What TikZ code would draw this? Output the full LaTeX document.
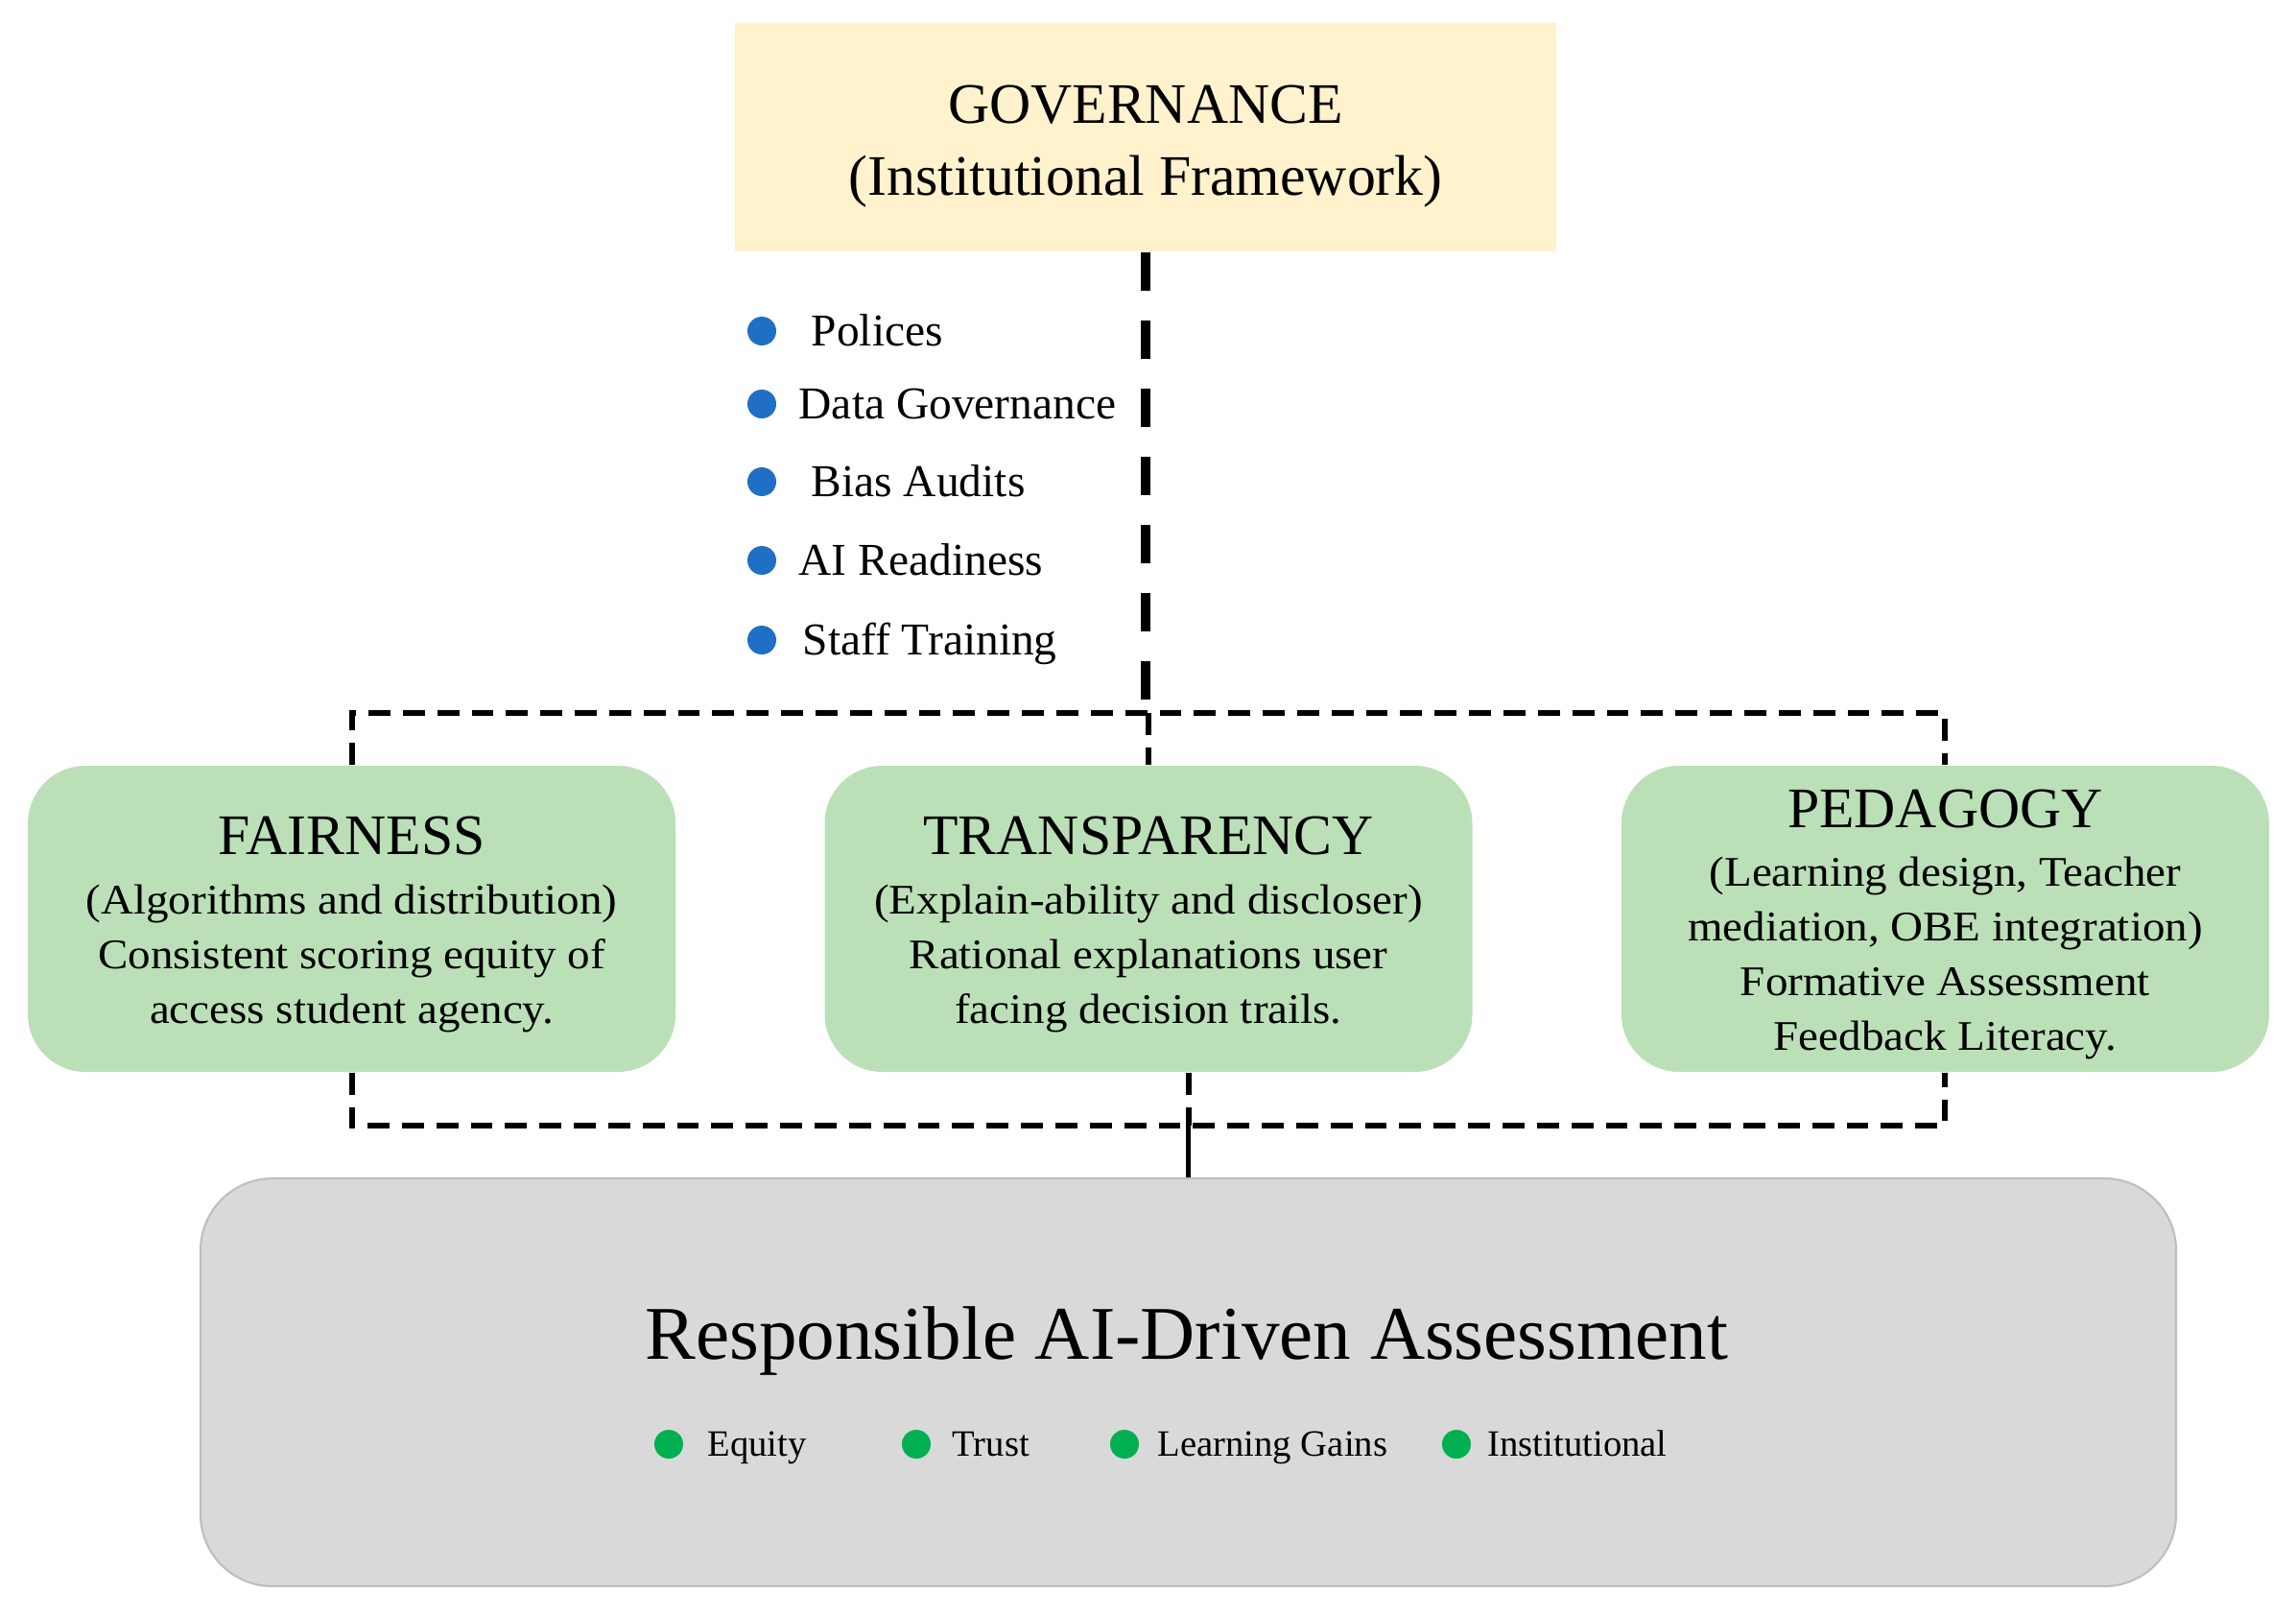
\documentclass[tikz,border=0pt]{standalone}
\usepackage{fontspec}
\setmainfont{Liberation Serif}
\usepackage{tikz}
\usetikzlibrary{positioning,calc}
\definecolor{govfill}{RGB}{255,242,204}
\definecolor{pillarfill}{RGB}{187,224,183}
\definecolor{basefill}{RGB}{217,217,217}
\definecolor{baseedge}{RGB}{190,190,190}
\definecolor{dotblue}{RGB}{31,111,197}
\definecolor{dotgreen}{RGB}{0,176,80}
\newcommand{\ptitle}[1]{{\normalfont\fontsize{17}{21}\selectfont\rule{0pt}{14.7pt}#1}}

\begin{document}
\begin{tikzpicture}[
  govbox/.style={fill=govfill, minimum width=8.56cm, minimum height=2.38cm, align=center, font=\fontsize{17}{21.3}\selectfont},
  pillar/.style={fill=pillarfill, rounded corners=0.6cm, minimum width=6.75cm, minimum height=3.19cm, align=center, font=\fontsize{12.5}{16.2}\selectfont\addfontfeatures{FakeStretch=1.07}},
  basebox/.style={fill=basefill, draw=baseedge, line width=0.6pt, rounded corners=0.75cm, minimum width=20.59cm, minimum height=4.25cm},
  trunk/.style={line width=2.7pt, dash pattern=on 11.4pt off 8.8pt},
  bus/.style={line width=1.7pt, dash pattern=on 6.5pt off 3.7pt},
  bdot/.style={circle, inner sep=0pt, minimum size=0.3cm, fill=dotblue},
  gdot/.style={circle, inner sep=0pt, minimum size=0.3cm, fill=dotgreen},
  item/.style={anchor=west, inner sep=0pt, text height=8.9pt, text depth=0pt, font=\fontsize{13.5}{16}\selectfont},
  gain/.style={anchor=west, inner sep=0pt, text height=7.3pt, text depth=0pt, font=\fontsize{11}{13}\selectfont}
]
\useasboundingbox (0,0) rectangle (23.93,-16.82);

\node[govbox] (gov) at (11.94,-1.43) {\rule{0pt}{16.6pt}GOVERNANCE\\(Institutional Framework)};

% governance items
\node[bdot] (d1) at (7.94,-3.45) {};
\node[item] (i1) at (8.45,-3.45) {Polices};
\node[bdot] (d2) at (7.94,-4.21) {};
\node[item] (i2) at (8.32,-4.21) {Data Governance};
\node[bdot] (d3) at (7.94,-5.02) {};
\node[item] (i3) at (8.45,-5.02) {Bias Audits};
\node[bdot] (d4) at (7.94,-5.84) {};
\node[item] (i4) at (8.32,-5.84) {AI Readiness};
\node[bdot] (d5) at (7.94,-6.67) {};
\node[item] (i5) at (8.36,-6.67) {Staff Training};

% pillars
\node[pillar] (trans) at (11.97,-9.575) {\ptitle{TRANSPARENCY}\\[1.3pt]
  (Explain-ability and discloser)\\Rational explanations user\\facing decision trails.};
\node[pillar, left=1.54cm of trans] (fair) {\ptitle{FAIRNESS}\\[1.3pt]
  (Algorithms and distribution)\\Consistent scoring equity of\\access student agency.};
\node[pillar, right=1.54cm of trans] (ped) {\ptitle{PEDAGOGY}\\[1pt]
  (Learning design, Teacher\\mediation, OBE integration)\\Formative Assessment\\Feedback Literacy.};

% outcome
\node[basebox] (base) at (12.385,-14.405) {};
\node[font=\fontsize{22.5}{27}\selectfont] (btitle) at (12.37,-13.975) {Responsible AI-Driven Assessment};
\node[gdot] (g1) at (6.97,-15.05) {};
\node[gain] (t1) at (7.37,-15.05) {Equity};
\node[gdot] (g2) at (9.55,-15.05) {};
\node[gain] (t2) at (9.92,-15.05) {Trust};
\node[gdot] (g3) at (11.72,-15.05) {};
\node[gain] (t3) at (12.06,-15.05) {Learning Gains};
\node[gdot] (g4) at (15.18,-15.05) {};
\node[gain] (t4) at (15.50,-15.05) {Institutional};

% connectors
\coordinate (topbus) at (0,-7.43);
\coordinate (lowbus) at (0,-11.73);
\draw[trunk] (gov.south) -- ($(gov.south |- topbus)+(0,0.12)$);
\draw[bus] (fair.north) -- (fair.north |- topbus) -- (ped.north |- topbus) -- (ped.north);
\draw[bus] (trans.north |- topbus) -- (trans.north);
\draw[bus] (fair.south) -- (fair.south |- lowbus) -- (ped.south |- lowbus) -- (ped.south);
\draw[bus] (base.north |- trans.south) -- (base.north |- lowbus);
\draw[line width=1.3pt] (base.north |- lowbus) -- (base.north);
\end{tikzpicture}
\end{document}
